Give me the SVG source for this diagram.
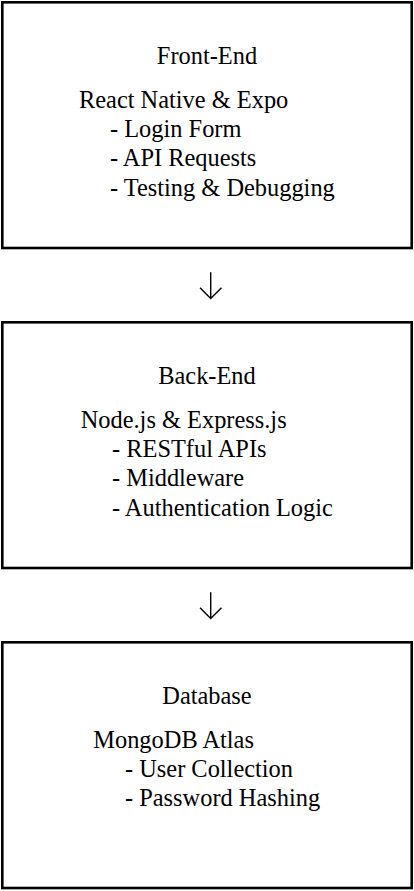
<svg xmlns="http://www.w3.org/2000/svg" width="414" height="891" viewBox="0 0 414 891">
<style>
.box{fill:#fff;stroke:#000;stroke-width:2.6}
.t{font-family:"Liberation Serif","Times New Roman",serif;font-size:24.4px;fill:#000}
.c{text-anchor:middle}
.arr{fill:none;stroke:#000;stroke-width:1.4}
</style>
<rect width="414" height="891" fill="#fff"/>
<g id="frontend">
<rect class="box" x="2.3" y="2.3" width="409.4" height="245.7"/>
<text class="t c" x="207" y="64.3">Front-End</text>
<text class="t" x="79" y="107.7">React Native &amp; Expo</text>
<text class="t" x="110" y="137">- Login Form</text>
<text class="t" x="110" y="166.3">- API Requests</text>
<text class="t" x="110" y="195.6">- Testing &amp; Debugging</text>
</g>
<g id="backend">
<rect class="box" x="2.3" y="322.3" width="409.4" height="245.7"/>
<text class="t c" x="207" y="384.3">Back-End</text>
<text class="t" x="80.7" y="427.7">Node.js &amp; Express.js</text>
<text class="t" x="112" y="457">- RESTful APIs</text>
<text class="t" x="112" y="486.3">- Middleware</text>
<text class="t" x="112" y="515.6">- Authentication Logic</text>
</g>
<g id="database">
<rect class="box" x="2.3" y="642.3" width="409.4" height="245.7"/>
<text class="t c" x="207" y="704.3">Database</text>
<text class="t" x="93.3" y="747.7">MongoDB Atlas</text>
<text class="t" x="125" y="777">- User Collection</text>
<text class="t" x="125" y="806.3">- Password Hashing</text>
</g>
<g id="connectors">
<path class="arr" d="M210.7 272.3V299M200 287.7L210.7 298.6L221.5 287.7"/>
<path class="arr" d="M210.7 592.3V619M200 607.7L210.7 618.6L221.5 607.7"/>
</g>
</svg>
